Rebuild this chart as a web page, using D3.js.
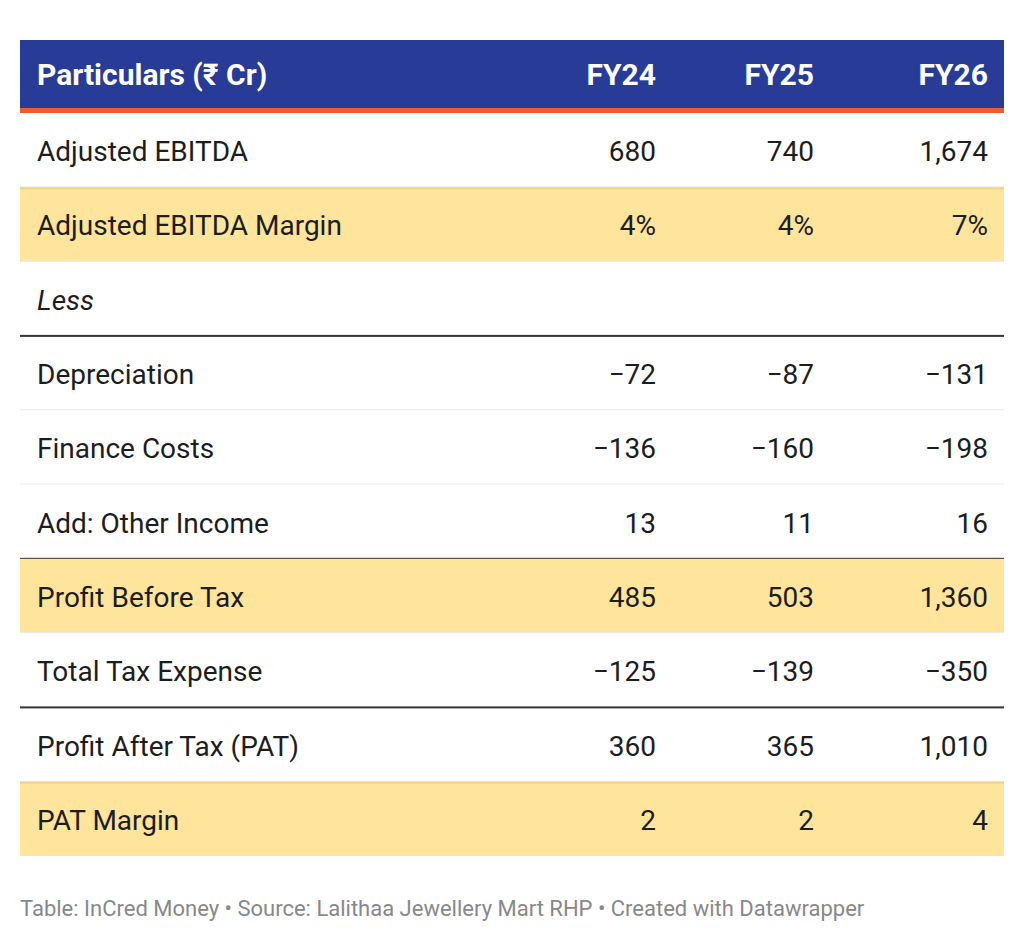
<!DOCTYPE html>
<html>
<head>
<meta charset="utf-8">
<script src="https://cdn.jsdelivr.net/npm/d3@7"></script>
<style>
  body { margin: 0; background: #fff; }
  svg { display: block; font-family: Roboto, "Noto Sans", sans-serif; }
</style>
</head>
<body>
<div id="chart"></div>
<script>
// table data
var columns = ["FY24", "FY25", "FY26"];
var particulars = [
    "Adjusted EBITDA", "Adjusted EBITDA Margin", "Less", "Depreciation",
    "Finance Costs", "Add: Other Income", "Profit Before Tax",
    "Total Tax Expense", "Profit After Tax (PAT)", "PAT Margin"
];
var fy24 = [680, 4, null, -72, -136, 13, 485, -125, 360, 2];
var fy25 = [740, 4, null, -87, -160, 11, 503, -139, 365, 2];
var fy26 = [1674, 7, null, -131, -198, 16, 1360, -350, 1010, 4];
var units = ["", "%", "", "", "", "", "", "", "", ""];
var footer = "Table: InCred Money \u2022 Source: Lalithaa Jewellery Mart RHP \u2022 Created with Datawrapper";

// row styling
var highlight = [1, 6, 9];
var thickBelow = [2, 5, 7];
var italic = [2];

var width = 1024, height = 942;
var margin = {left: 20, right: 20};
var headTop = 40, headBottom = 108, stripe = 5;
var bodyBottom = 856;
var pad = 16;

var values = [fy24, fy25, fy26];
var fmt = d3.format(",");

var svg = d3.select("#chart").append("svg")
    .attr("width", width)
    .attr("height", height);

// row scale
var y = d3.scaleBand()
    .domain(d3.range(particulars.length))
    .range([headBottom + stripe, bodyBottom]);

// column right edges
var x = d3.scaleOrdinal()
    .domain(columns)
    .range([656, 814, width - margin.right - pad]);

// header
svg.append("rect")
    .attr("x", margin.left).attr("y", headTop)
    .attr("width", width - margin.left - margin.right)
    .attr("height", headBottom - headTop)
    .attr("fill", "#283b96");
svg.append("rect")
    .attr("x", margin.left).attr("y", headBottom)
    .attr("width", width - margin.left - margin.right)
    .attr("height", stripe)
    .attr("fill", "#f15a2b");

var headMid = (headTop + headBottom) / 2;
svg.append("text")
    .attr("x", margin.left + 17).attr("y", headMid + 10.5)
    .attr("fill", "#fff").attr("font-size", 30).attr("font-weight", 700)
    .text("Particulars (\u20b9 Cr)");
svg.selectAll("text.colhead")
    .data(columns)
    .enter().append("text")
    .attr("class", "colhead")
    .attr("x", function (d) { return x(d); })
    .attr("y", headMid + 10.5)
    .attr("text-anchor", "end")
    .attr("fill", "#fff").attr("font-size", 30).attr("font-weight", 700)
    .text(function (d) { return d; });

// rows
var rows = svg.selectAll("g.row")
    .data(particulars)
    .enter().append("g")
    .attr("class", "row")
    .attr("transform", function (d, i) { return "translate(0," + y(i) + ")"; });

rows.filter(function (d, i) { return highlight.indexOf(i) >= 0; })
    .append("rect")
    .attr("x", margin.left).attr("y", 0)
    .attr("width", width - margin.left - margin.right)
    .attr("height", y.bandwidth())
    .attr("fill", "#fee59b");

rows.filter(function (d, i) { return highlight.indexOf(i) >= 0 && i > 0 && thickBelow.indexOf(i - 1) < 0; })
    .append("rect")
    .attr("x", margin.left).attr("y", 0)
    .attr("width", width - margin.left - margin.right)
    .attr("height", 2)
    .attr("fill", "#efd383");

// row separators
rows.filter(function (d, i) { return i < particulars.length - 1; })
    .append("rect")
    .attr("x", margin.left)
    .attr("y", function (d, i) { return y.bandwidth() - 1; })
    .attr("width", width - margin.left - margin.right)
    .attr("height", function (d, i) { return thickBelow.indexOf(particulars.indexOf(d)) >= 0 ? 2 : 1; })
    .attr("fill", function (d) { return thickBelow.indexOf(particulars.indexOf(d)) >= 0 ? "#333" : "#ebebeb"; });

var mid = y.bandwidth() / 2;
rows.append("text")
    .attr("x", margin.left + 17).attr("y", mid + 11)
    .attr("fill", "#1d1d1d").attr("font-size", 28)
    .attr("font-style", function (d, i) { return italic.indexOf(i) >= 0 ? "italic" : "normal"; })
    .text(function (d) { return d; });

columns.forEach(function (c, ci) {
    rows.append("text")
        .attr("x", x(c)).attr("y", mid + 11)
        .attr("text-anchor", "end")
        .attr("fill", "#1d1d1d").attr("font-size", 28)
        .text(function (d, i) {
            var v = values[ci][i];
            return v === null ? "" : fmt(v) + units[i];
        });
});

// footer
svg.append("text")
    .attr("x", margin.left).attr("y", 916)
    .attr("fill", "#888").attr("font-size", 22)
    .text(footer);
</script>
</body>
</html>
